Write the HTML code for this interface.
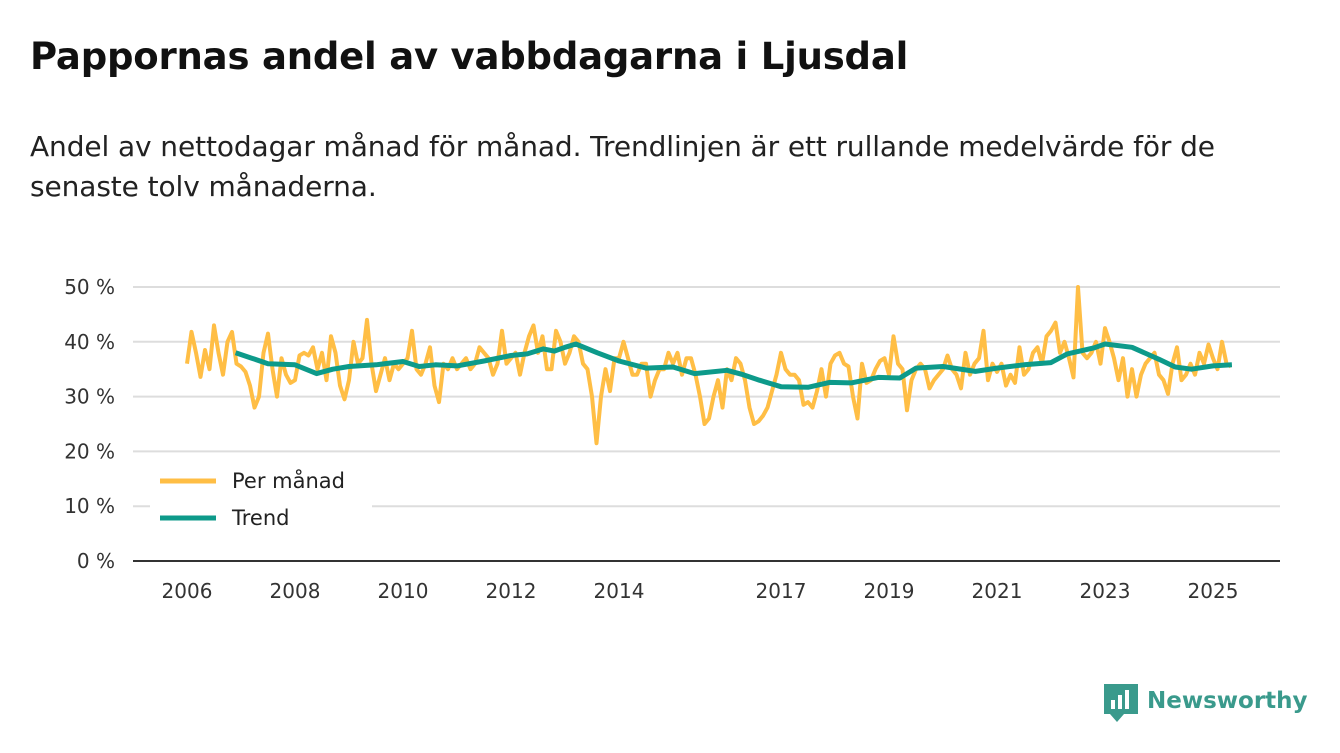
<!DOCTYPE html>
<html><head><meta charset="utf-8"><style>
body{margin:0;width:1340px;height:753px;background:#fff;font-family:"DejaVu Sans","Liberation Sans",sans-serif;overflow:hidden;position:relative}
#title{position:absolute;left:30px;top:35px;font-size:37px;font-weight:bold;color:#111;margin:0;letter-spacing:-0.2px}
#sub{position:absolute;left:30px;top:127px;font-size:28px;line-height:40px;color:#222;width:1300px;letter-spacing:-0.1px}
svg{position:absolute;left:0;top:0}
</style></head><body>
<h1 id="title">Pappornas andel av vabbdagarna i Ljusdal</h1>
<div id="sub">Andel av nettodagar månad för månad. Trendlinjen är ett rullande medelvärde för de<br>senaste tolv månaderna.</div>
<svg id="chart" width="1340" height="753"></svg>
<script>
const monthly = [36,41.8,38,33.6,38.5,35,43,38,34,40,41.8,36,
35.5,34.5,32,28,30,38,41.5,35,30,37,34,32.5,
33,37.5,38,37.5,39,35,38,33,41,38,32,29.5,
33,40,36,37,44,36,31,34,37,33,36,35,
36,37,42,35,34,36,39,32,29,36,35,37,
35,36,37,35,36,39,38,37,34,36,42,36,
37,38,34,38,41,43,38,41,35,35,42,40,
36,38,41,40,36,35,30,21.5,30,35,31,37,
37,40,37,34,34,36,36,30,33,35,35,38,
36,38,34,37,37,34,30,25,26,30,33,28,
35,33,37,36,33,28,25,25.5,26.5,28,31,34,
38,35,34,34,33,28.5,29,28,31,35,30,36,
37.5,38,36,35.5,30,26,36,32.5,33,35,36.5,37,
34,41,36,35,27.5,33,35,36,35,31.5,33,34,
35,37.5,35,34,31.5,38,34,36,37,42,33,36,
34.5,36,32,34,32.5,39,34,35,38,39,36,41,
42,43.5,38,40,37,33.5,50,38,37,38,40,36,
42.5,40,37,33,37,30,35,30,34,36,37,38,
34,33,30.5,36,39,33,34,36,34,38,36,39.5,
37,35,40,36,35.5];
const trendYears = [2006.9,2007.2,2007.5,2008.0,2008.4,2008.7,2009,2009.5,2010,2010.3,2010.6,2011,2011.5,2012,2012.3,2012.6,2012.8,2013,2013.2,2013.6,2014,2014.5,2015,2015.4,2016,2016.3,2016.6,2017,2017.5,2017.9,2018.3,2018.8,2019.2,2019.5,2020,2020.6,2021,2021.5,2022,2022.3,2022.8,2023,2023.5,2024,2024.3,2024.6,2025,2025.35];
const trendValues = [38,37,36,35.8,34.2,35,35.5,35.8,36.4,35.5,35.8,35.6,36.5,37.5,37.8,38.7,38.3,39,39.6,38,36.5,35.2,35.4,34.2,34.8,34,33,31.8,31.7,32.6,32.5,33.5,33.4,35.2,35.5,34.6,35.2,35.8,36.2,37.8,38.9,39.6,39,36.8,35.4,35,35.6,35.8];
const yTicks = [0,10,20,30,40,50];
const xTicks = [2006,2008,2010,2012,2014,2017,2019,2021,2023,2025];
const NS="http://www.w3.org/2000/svg", svg=document.getElementById('chart');
const X=yr=>187+(yr-2006)*54, Y=v=>561-v*5.48;
function el(t,a,p){const e=document.createElementNS(NS,t);for(const k in a)e.setAttribute(k,a[k]);(p||svg).appendChild(e);return e;}
yTicks.forEach(t=>{
 if(t>0){const g=el('line',{x1:133,x2:1280,y1:Y(t),y2:Y(t),stroke:'#ddd','stroke-width':2});
 
 }
 const l=el('text',{x:115,y:Y(t)+7,'text-anchor':'end','font-size':20,fill:'#333'});l.textContent=t+' %';
 
 
});
const ax=el('line',{x1:133,x2:1280,y1:561,y2:561,stroke:'#333','stroke-width':2});


xTicks.forEach(t=>{
 const l=el('text',{x:X(t),y:598,'text-anchor':'middle','font-size':20,fill:'#333'});l.textContent=t;
 
 
});
const mp=monthly.map((v,i)=>X(2006+i/12).toFixed(1)+','+Y(v).toFixed(1)).join(' ');
const ml=el('polyline',{points:mp,fill:'none',stroke:'#ffbe45','stroke-width':4,'stroke-linejoin':'round'});


const tp=trendValues.map((v,i)=>X(trendYears[i]).toFixed(1)+','+Y(v).toFixed(1)).join(' ');
const tl=el('polyline',{points:tp,fill:'none',stroke:'#0d9a8a','stroke-width':5,'stroke-linejoin':'round'});


const lg=el('g',{});


el('rect',{x:150,y:462,width:222,height:74,fill:'#fff'},lg);
el('line',{x1:160,x2:216,y1:481,y2:481,stroke:'#ffbe45','stroke-width':5},lg);
el('line',{x1:160,x2:216,y1:518,y2:518,stroke:'#0d9a8a','stroke-width':5},lg);
const a=el('text',{x:232,y:488,'font-size':21,fill:'#222'},lg);a.textContent='Per månad';


const b=el('text',{x:232,y:525,'font-size':21,fill:'#222'},lg);b.textContent='Trend';


const logo=el('g',{});


el('path',{d:'M1104 684h34v30h-14l-7 8-7-8h-6z',fill:'#3a9a8c'},logo);
el('rect',{x:1111,y:700,width:4,height:9,fill:'#fff'},logo);
el('rect',{x:1118,y:695,width:4,height:14,fill:'#fff'},logo);
el('rect',{x:1125,y:690,width:4,height:19,fill:'#fff'},logo);
const n=el('text',{x:1147,y:708,'font-size':23,'font-weight':'bold',fill:'#3a9a8c'},logo);n.textContent='Newsworthy';
</script>
</body></html>
